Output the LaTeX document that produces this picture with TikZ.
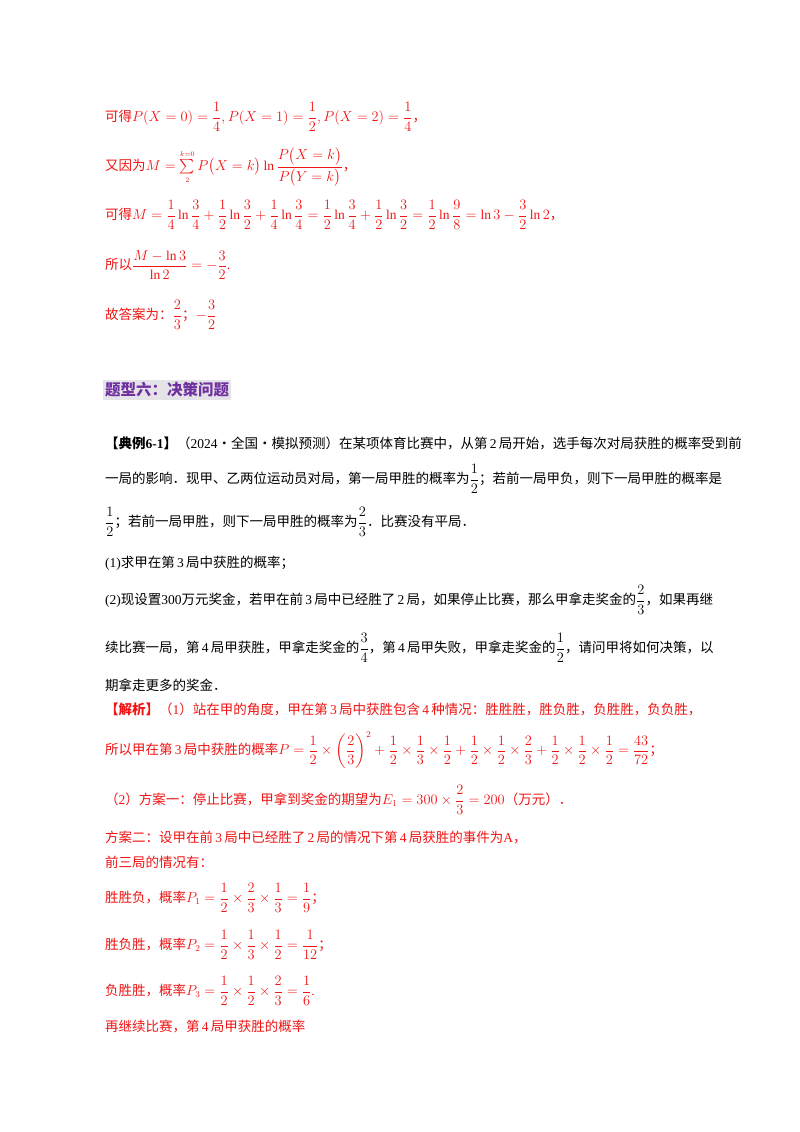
\documentclass[tikz,border=0pt]{standalone}
\usepackage{amsmath}
\usepackage{fontspec}
\setmainfont{Liberation Serif}
\newfontfamily\cjk{Noto Sans CJK SC}
\definecolor{ans}{RGB}{240,20,20}
\definecolor{purp}{RGB}{112,48,160}
\definecolor{hbg}{RGB}{228,228,232}
\newcommand{\C}[1]{{\cjk #1}}
\newcommand{\n}[1]{\,#1\,}
\begin{document}
\begin{tikzpicture}[x=1pt,y=-1pt,
  ln/.style={anchor=west,inner sep=0pt,font=\fontsize{13.5}{16}\selectfont},
  rd/.style={ln,text=ans},
  bk/.style={ln,text=black}]
\useasboundingbox (0,0) rectangle (800,1132);
\fill[white] (0,0) rectangle (800,1132);
\node[rd] (l1) at (105,117) {\C{可得}$P(X=0)=\dfrac14,P(X=1)=\dfrac12,P(X=2)=\dfrac14$\C{，}};
\node[rd] (l2) at (105,167) {\C{又因为}$M=\sum\limits_{\scriptscriptstyle 2}^{\scriptscriptstyle k=0}P\big(X=k\big)\ln\dfrac{P\big(X=k\big)}{P\big(Y=k\big)}$\C{，}};
\node[rd] (l3) at (105,215) {\C{可得}$M=\dfrac14\ln\dfrac34+\dfrac12\ln\dfrac32+\dfrac14\ln\dfrac34=\dfrac12\ln\dfrac34+\dfrac12\ln\dfrac32=\dfrac12\ln\dfrac98=\ln3-\dfrac32\ln2$\C{，}};
\node[rd] (l4) at (105,265) {\C{所以}$\dfrac{M-\ln3}{\ln2}=-\dfrac32$.};
\node[rd] (l5) at (105,315) {\C{故答案为：}$\dfrac23$\C{；}$-\dfrac32$};
\node[anchor=west,fill=hbg,inner xsep=2pt,inner ysep=3pt,text=purp,font=\fontsize{15.5}{18}\selectfont\cjk\bfseries] (h) at (103,390) {题型六：决策问题};
\node[bk] (p1) at (105,443) {\C{\textbf{【典例}}\textbf{6-1}\C{\textbf{】}}\C{（}2024\C{·全国·模拟预测）在某项体育比赛中，从第}\n{2}\C{局开始，选手每次对局获胜的概率受到前}};
\node[bk] (p2) at (105,479) {\C{一局的影响．现甲、乙两位运动员对局，第一局甲胜的概率为}$\dfrac12$\C{；若前一局甲负，则下一局甲胜的概率是}};
\node[bk] (p3) at (105,522) {$\dfrac12$\C{；若前一局甲胜，则下一局甲胜的概率为}$\dfrac23$\C{．比赛没有平局．}};
\node[bk] (p4) at (105,563) {(1)\C{求甲在第}\n{3}\C{局中获胜的概率；}};
\node[bk] (p5) at (105,600) {(2)\C{现设置}300\C{万元奖金，若甲在前}\n{3}\C{局中已经胜了}\n{2}\C{局，如果停止比赛，那么甲拿走奖金的}$\dfrac23$\C{，如果再继}};
\node[bk] (p6) at (105,648) {\C{续比赛一局，第}\n{4}\C{局甲获胜，甲拿走奖金的}$\dfrac34$\C{，第}\n{4}\C{局甲失败，甲拿走奖金的}$\dfrac12$\C{，请问甲将如何决策，以}};
\node[bk] (p7) at (105,685) {\C{期拿走更多的奖金．}};
\node[rd] (s1) at (105,709) {\C{\textbf{【解析】}（}1\C{）站在甲的角度，甲在第}\n{3}\C{局中获胜包含}\n{4}\C{种情况：胜胜胜，胜负胜，负胜胜，负负胜，}};
\node[rd] (s2) at (105,750) {\C{所以甲在第}\n{3}\C{局中获胜的概率}$P=\dfrac12\times\left(\dfrac23\right)^{2}+\dfrac12\times\dfrac13\times\dfrac12+\dfrac12\times\dfrac12\times\dfrac23+\dfrac12\times\dfrac12\times\dfrac12=\dfrac{43}{72}$\C{；}};
\node[rd] (s3) at (105,800) {\C{（}2\C{）方案一：停止比赛，甲拿到奖金的期望为}$E_1=300\times\dfrac23=200$\C{（万元）．}};
\node[rd] (s4) at (105,838) {\C{方案二：设甲在前}\n{3}\C{局中已经胜了}\n{2}\C{局的情况下第}\n{4}\C{局获胜的事件为}A\C{，}};
\node[rd] (s5) at (105,862) {\C{前三局的情况有：}};
\node[rd] (s6) at (105,898) {\C{胜胜负，概率}$P_1=\dfrac12\times\dfrac23\times\dfrac13=\dfrac19$\C{；}};
\node[rd] (s7) at (105,945) {\C{胜负胜，概率}$P_2=\dfrac12\times\dfrac13\times\dfrac12=\dfrac1{12}$\C{；}};
\node[rd] (s8) at (105,991) {\C{负胜胜，概率}$P_3=\dfrac12\times\dfrac12\times\dfrac23=\dfrac16$.};
\node[rd] (s9) at (105,1026) {\C{再继续比赛，第}\n{4}\C{局甲获胜的概率}};
\end{tikzpicture}
\end{document}
